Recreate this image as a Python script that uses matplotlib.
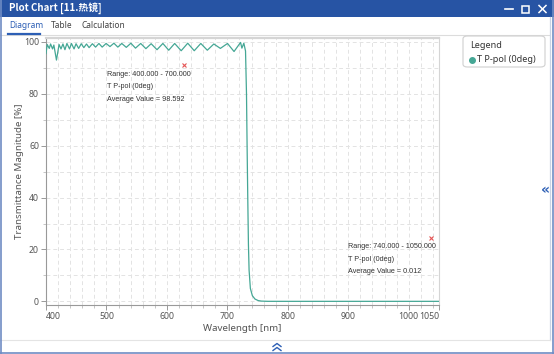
import matplotlib
matplotlib.use('Agg')
import matplotlib.pyplot as plt
from matplotlib.lines import Line2D
from matplotlib.patches import Rectangle, FancyBboxPatch

W, H = 554, 354

# spectrum (extrema of the ripple + the edge)
wavelength = [400, 402, 405.4, 407.6, 410.8, 413, 417.3, 421.6, 424.8, 428,
              431.3, 434.6, 438.9, 442.1, 446.4, 449.7, 454, 458.3, 462.6, 467,
              471.3, 476.7, 482, 487.5, 492.9, 499.4, 505.8, 512.3, 518.8, 525.3,
              532.8, 540.4, 548, 556.6, 565.2, 573.9, 583.6, 593.3, 603, 612.8,
              623.6, 634.4, 645.2, 656, 666.8, 677.6, 688.4, 700.2, 711, 721.8,
              724, 727.2, 730, 731.6, 732.6, 733.7, 734.8, 735.9, 738, 741.3,
              745.6, 751, 756.4, 767, 800, 900, 1000, 1050]
transmittance = [95.5, 99.0, 97.5, 99.2, 97.3, 98.8, 93.0, 99.0, 97.3, 99.2,
                 97.0, 99.4, 97.3, 99.4, 97.3, 99.3, 97.5, 99.3, 97.8, 99.2,
                 97.8, 99.3, 98.0, 99.4, 98.0, 99.4, 98.2, 99.5, 98.0, 99.4,
                 97.9, 99.5, 97.6, 99.4, 97.4, 99.3, 97.0, 99.4, 96.8, 99.4,
                 96.6, 99.5, 96.6, 99.4, 96.8, 99.2, 97.5, 99.4, 96.3, 99.8,
                 97.6, 99.5, 96.5, 80, 60, 40, 22, 12, 5, 2.2,
                 0.9, 0.3, 0.1, 0.02, 0.01, 0.01, 0.01, 0.01]

x_ticks = [400, 500, 600, 700, 800, 900, 1000, 1050]
y_ticks = [0, 20, 40, 60, 80, 100]

marker_x = [628, 1036]
marker_y = [91, 24.5]
note_x = [501, 899]
note_y = [87.4, 21.0]
notes = [["Range: 400.000 - 700.000", "T P-pol (0deg)", "Average Value = 98.592"],
         ["Range: 740.000 - 1050.000", "T P-pol (0deg)", "Average Value = 0.012"]]

series_name = "T P-pol (0deg)"
tabs = ["Diagram", "Table", "Calculation"]
tab_x = [9, 51, 82]

teal = '#45a795'
blue = '#2754a4'
ui_font = 'Noto Sans'


def P(x, y):
    return (x / W, 1 - y / H)


fig = plt.figure(figsize=(W / 100, H / 100), dpi=100)
fig.patch.set_facecolor('white')

# ---- window chrome ----
fig.add_artist(Rectangle(P(0, 17), 1, 17 / H, transform=fig.transFigure,
                         facecolor=blue, edgecolor='none'))
fig.text(*P(9, 8.5), "Plot Chart [11.热镜]", color='white', fontsize=7,
         fontweight='bold', va='center', family=['Noto Sans CJK SC', 'DejaVu Sans'])
fig.add_artist(Line2D([505 / W, 513 / W], [1 - 9 / H] * 2, color='white', lw=1.2))
fig.add_artist(Rectangle(P(522, 12.5), 7 / W, 7 / H, transform=fig.transFigure,
                         facecolor='none', edgecolor='white', lw=1.1))
fig.add_artist(Line2D([539 / W, 546 / W], [1 - 5.5 / H, 1 - 12.5 / H], color='white', lw=1.1))
fig.add_artist(Line2D([539 / W, 546 / W], [1 - 12.5 / H, 1 - 5.5 / H], color='white', lw=1.1))

for name, tx in zip(tabs, tab_x):
    fig.text(*P(tx, 25.5), name, fontsize=6, va='center', family=ui_font,
             color='#2d5fb5' if name == 'Diagram' else '#444444')
fig.add_artist(Line2D([0, 549 / W], [1 - 34.5 / H] * 2, color='#dcdcdc', lw=0.8))
fig.add_artist(Line2D([8 / W, 40 / W], [1 - 33.8 / H] * 2, color='#2d5fb5', lw=1.6))

# right side panel and bottom strip
fig.add_artist(Line2D([549.5 / W] * 2, [1 - 17 / H, 1 - 340 / H], color='#c9d3e6', lw=0.9))
fig.text(*P(545, 190), "«", color='#2d5fb5', fontsize=10, fontweight='bold',
         ha='center', va='center')
fig.add_artist(Line2D([0, 549.5 / W], [1 - 340 / H] * 2, color='#e4e4e4', lw=0.8))
for cy in (343.5, 347.5):
    fig.add_artist(Line2D([273 / W, 277 / W, 281 / W], [1 - (cy + 3) / H, 1 - cy / H, 1 - (cy + 3) / H],
                          color='#2d5fb5', lw=1.0))
# window frame
fig.add_artist(Line2D([0.8 / W] * 2, [0, 1], color='#6f8cc4', lw=1.2))
fig.add_artist(Line2D([553.2 / W] * 2, [0, 1], color='#6f8cc4', lw=1.2))
fig.add_artist(Line2D([0, 1], [0.8 / H] * 2, color='#6f8cc4', lw=1.2))

# ---- plot ----
left, right, top, bottom = 46, 439, 37.5, 305
ax = fig.add_axes([left / W, 1 - bottom / H, (right - left) / W, (bottom - top) / H])
ax.plot(wavelength, transmittance, color=teal, lw=0.9, zorder=3)
ax.plot(marker_x, marker_y, ls='none', marker='x', color='#e45454', ms=3.5, mew=0.8, zorder=4)

for nx, ny, lines in zip(note_x, note_y, notes):
    for i, line in enumerate(lines):
        ax.annotate(line, xy=(nx, ny), xytext=(0, -8.9 * i), textcoords='offset points',
                    fontsize=5.2, color='#333333', va='center', family='Liberation Sans')

ax.set_xlim(400, 1050)
ax.set_ylim(-1.4, 101.7)
ax.set_xticks(x_ticks)
ax.set_xticks(range(420, 1050, 20), minor=True)
ax.set_yticks(y_ticks)
ax.set_yticks(range(10, 100, 20), minor=True)
ax.grid(True, which='both', color='#e3e3e3', lw=0.7, ls=(0, (4, 3)))
ax.set_axisbelow(True)

for lab in ax.get_xticklabels() + ax.get_yticklabels():
    lab.set_family(ui_font)
ax.tick_params(axis='both', which='major', labelsize=6.3, labelcolor='#555555',
               color='#999999', length=3.5, width=0.7, pad=1.5)
ax.tick_params(axis='both', which='minor', color='#bbbbbb', length=2, width=0.6)
xl = ax.get_xticklabels()
xl[0].set_ha('left')
xl[-1].set_ha('right')

ax.set_xlabel("Wavelength [nm]", fontsize=7, color='#555555', family=ui_font, labelpad=2)
ax.set_ylabel("Transmittance Magnitude [%]", fontsize=7, color='#555555', family=ui_font, labelpad=0)

ax.spines['left'].set_color('#999999')
ax.spines['bottom'].set_color('#999999')
ax.spines['top'].set_color('#d5d5d5')
ax.spines['top'].set_linewidth(1.6)
ax.spines['right'].set_color('#d5d5d5')

# ---- legend box ----
fig.add_artist(FancyBboxPatch(P(463, 67), 82 / W, 31 / H, transform=fig.transFigure,
                              boxstyle='round,pad=0,rounding_size=0.008',
                              facecolor='white', edgecolor='#d0d0d0', lw=0.8, zorder=5))
fig.text(*P(470, 45.5), "Legend", fontsize=6.5, fontweight='bold', color='#333333',
         va='center', family=ui_font, zorder=6)
fig.add_artist(Line2D([472 / W], [1 - 59.5 / H], marker='o', color=teal, ms=4, ls='none', zorder=6))
fig.text(*P(477, 59.5), series_name, fontsize=6.5, color='#333333', va='center',
         family=ui_font, zorder=6)

fig.savefig('out.png', dpi=100)
